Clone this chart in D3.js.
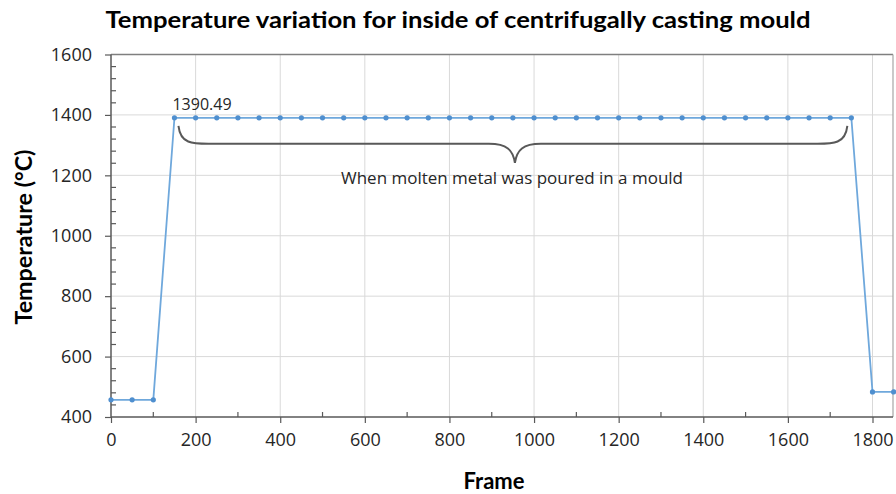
<!DOCTYPE html>
<html><head><meta charset="utf-8">
<script src="https://cdn.jsdelivr.net/npm/d3@7"></script>
<style>html,body{margin:0;padding:0;background:#fff;}svg{display:block;font-family:"Open Sans",sans-serif;}</style>
</head><body>
<svg id="c" width="896" height="494"></svg>
<script>
const frames = [0,50,100,150,200,250,300,350,400,450,500,550,600,650,700,750,800,850,900,950,1000,1050,1100,1150,1200,1250,1300,1350,1400,1450,1500,1550,1600,1650,1700,1750,1800,1850];
const temps = [457,457,457,1390.49,1390.49,1390.49,1390.49,1390.49,1390.49,1390.49,1390.49,1390.49,1390.49,1390.49,1390.49,1390.49,1390.49,1390.49,1390.49,1390.49,1390.49,1390.49,1390.49,1390.49,1390.49,1390.49,1390.49,1390.49,1390.49,1390.49,1390.49,1390.49,1390.49,1390.49,1390.49,1390.49,483,483];
const xTicks = [0,200,400,600,800,1000,1200,1400,1600,1800];
const yTicks = [400,600,800,1000,1200,1400,1600];
const peakLabel = "1390.49";
const braceFrom = 150, braceTo = 1750;
const titleText = "Temperature variation for inside of centrifugally casting mould";
const xTitle = "Frame", yTitle = "Temperature (°C)";
const noteText = "When molten metal was poured in a mould";

const svg = d3.select("#c");
const x = d3.scaleLinear().domain([0,1800]).range([111,872.5]);
const y = d3.scaleLinear().domain([400,1600]).range([417,54.5]);
const right = 893;

// gridlines
svg.append("g").selectAll("line").data(xTicks.filter(d=>d>0)).join("line")
  .attr("x1",d=>x(d)).attr("x2",d=>x(d)).attr("y1",y(400)).attr("y2",y(1600))
  .attr("stroke","#d9d9d9").attr("stroke-width",1);
svg.append("g").selectAll("line").data(yTicks.filter(d=>d>400&&d<1600)).join("line")
  .attr("x1",x(0)).attr("x2",right).attr("y1",d=>y(d)).attr("y2",d=>y(d))
  .attr("stroke","#d9d9d9").attr("stroke-width",1);

// borders
svg.append("line").attr("x1",x(0)).attr("x2",right).attr("y1",y(1600)).attr("y2",y(1600)).attr("stroke","#7f7f7f").attr("stroke-width",1.5);
svg.append("line").attr("x1",right).attr("x2",right).attr("y1",y(1600)).attr("y2",y(400)).attr("stroke","#a6a6a6").attr("stroke-width",1.2);

// axes
const xAxis = d3.axisBottom(x).tickValues(xTicks).tickSize(6).tickPadding(10).tickFormat(d3.format("d"));
const gx = svg.append("g").attr("transform",`translate(0,${y(400)})`).call(xAxis);
gx.select(".domain").remove();
gx.append("line").attr("x1",x(0)).attr("x2",right).attr("stroke","#595959").attr("stroke-width",1.5);
gx.selectAll(".tick line").attr("stroke","#595959").attr("stroke-width",1.2);
gx.selectAll(".tick text").attr("fill","#262626").style("font-size","18px").style("font-family","'Open Sans',sans-serif");
const xMinor = d3.range(100,1900,200);
gx.selectAll(".minor").data(xMinor).join("line").attr("class","minor")
  .attr("x1",d=>x(d)).attr("x2",d=>x(d)).attr("y1",0).attr("y2",-5).attr("stroke","#595959").attr("stroke-width",1.2);

const yAxis = d3.axisLeft(y).tickValues(yTicks).tickSize(6).tickPadding(13).tickFormat(d3.format("d"));
const gy = svg.append("g").attr("transform",`translate(${x(0)},0)`).call(yAxis);
gy.select(".domain").attr("stroke","#595959").attr("stroke-width",1.5).attr("d",`M0,${y(1600)}V${y(400)}`);
gy.selectAll(".tick line").attr("stroke","#595959").attr("stroke-width",1.2);
gy.selectAll(".tick text").attr("fill","#262626").style("font-size","18px").style("font-family","'Open Sans',sans-serif");
const yMinor = d3.range(440,1600,40).filter(d=>d%200!==0);
gy.selectAll(".minor").data(yMinor).join("line").attr("class","minor")
  .attr("x1",0).attr("x2",5).attr("y1",d=>y(d)).attr("y2",d=>y(d)).attr("stroke","#595959").attr("stroke-width",1.2);

// data
const data = frames.map((f,i)=>({f,t:temps[i]}));
svg.append("path").datum(data)
  .attr("d",d3.line().x(d=>x(d.f)).y(d=>y(d.t)))
  .attr("fill","none").attr("stroke","#6fa8dc").attr("stroke-width",1.8);
svg.append("g").selectAll("circle").data(data).join("circle")
  .attr("cx",d=>x(d.f)).attr("cy",d=>y(d.t)).attr("r",2.6).attr("fill","#4f8fcf");

// peak label
svg.append("text").attr("x",x(150)-2).attr("y",y(1390.49)-8)
  .attr("fill","#262626").style("font-size","16px").text(peakLabel);

// brace
const bx1 = x(braceFrom)+4, bx2 = x(braceTo)-4, by0 = y(1390.49)+8, by1 = y(1390.49)+26, mid = (bx1+bx2)/2+2, tip = y(1390.49)+45;
const bp = `M${bx1},${by0} C${bx1+2},${by1} ${bx1+14},${by1} ${bx1+30},${by1} L${mid-26},${by1} C${mid-8},${by1} ${mid-2},${by1+6} ${mid},${tip} C${mid+2},${by1+6} ${mid+8},${by1} ${mid+26},${by1} L${bx2-30},${by1} C${bx2-14},${by1} ${bx2-2},${by1} ${bx2},${by0}`;
svg.append("path").attr("d",bp).attr("fill","none").attr("stroke","#595959").attr("stroke-width",2);

svg.append("text").attr("x",512).attr("y",184).attr("text-anchor","middle")
  .attr("fill","#262626").style("font-size","15.5px")
  .attr("textLength",342).attr("lengthAdjust","spacingAndGlyphs").text(noteText);

// titles
svg.append("text").attr("x",458).attr("y",28).attr("text-anchor","middle")
  .style("font-family","Lato,sans-serif").style("font-weight","bold").style("font-size","23px")
  .attr("fill","#000").attr("textLength",705).attr("lengthAdjust","spacingAndGlyphs").text(titleText);
svg.append("text").attr("x",494).attr("y",489).attr("text-anchor","middle")
  .style("font-family","Lato,sans-serif").style("font-weight","bold").style("font-size","22px")
  .attr("fill","#000").text(xTitle);
svg.append("text").attr("transform","translate(32,237) rotate(-90)").attr("text-anchor","middle")
  .style("font-family","Lato,sans-serif").style("font-weight","bold").style("font-size","22px")
  .attr("fill","#000").attr("textLength",175).attr("lengthAdjust","spacingAndGlyphs").text(yTitle);
</script>
</body></html>
